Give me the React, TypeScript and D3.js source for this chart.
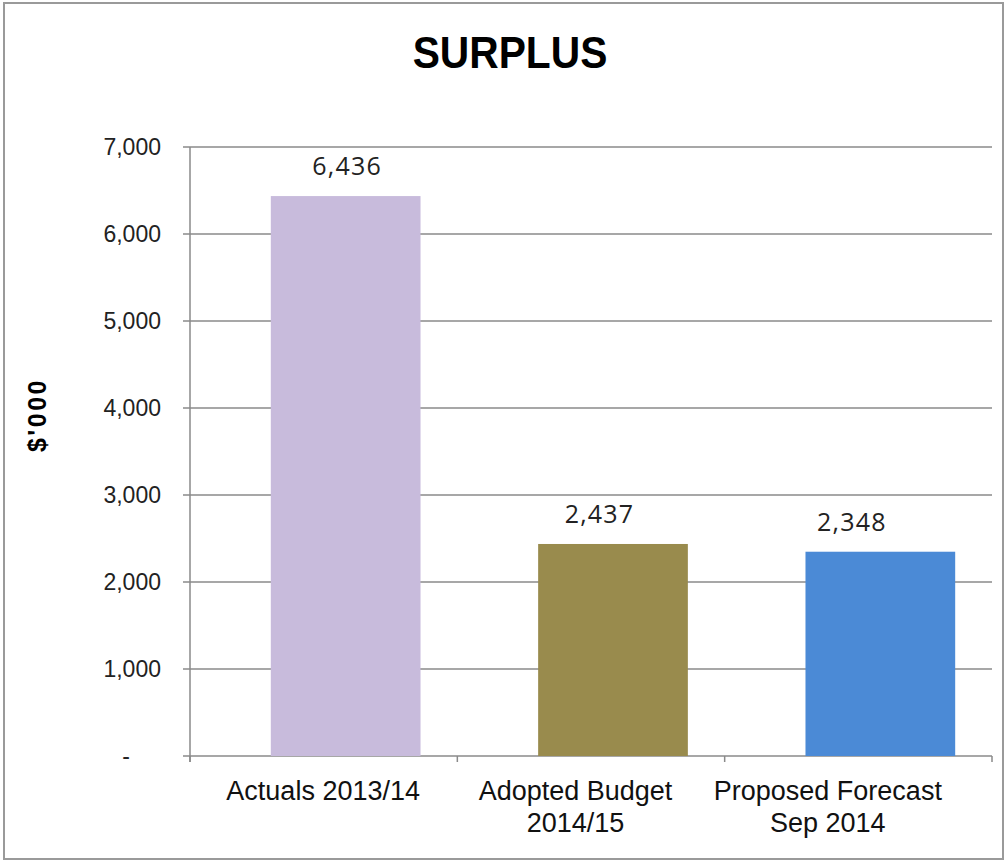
import React from "react";
import * as d3 from "d3";

const categories: string[][] = [
  ["Actuals 2013/14"],
  ["Adopted Budget", "2014/15"],
  ["Proposed Forecast", "Sep 2014"],
];
const values: number[] = [6436, 2437, 2348];
const barColors: string[] = ["#c8bbdc", "#998b4d", "#4b8ad6"];
const yTicks: number[] = [0, 1000, 2000, 3000, 4000, 5000, 6000, 7000];
const title = "SURPLUS";
const yTitle = "$'000";

const W = 1007;
const H = 864;

export default function App() {
  const keys = categories.map((_, i) => String(i));
  const y = d3.scaleLinear().domain([0, 7000]).range([756, 147]);
  const xAxis = d3.scaleBand().domain(keys).range([190, 992]);
  const xBar = d3
    .scaleBand()
    .domain(keys)
    .range([212, 1014])
    .paddingInner(0.44)
    .paddingOuter(0.22);
  const xValue = d3.scaleBand().domain(keys).range([221, 978]);
  const xCat = d3.scaleBand().domain(keys).range([197, 954]);
  const fmt = d3.format(",");
  const tickFmt = (v: number) => (v === 0 ? "-" : fmt(v));
  const axisTicks = [...keys.map((k) => xAxis(k)!), xAxis.range()[1]];

  return (
    <svg
      width={W}
      height={H}
      style={{ position: "absolute", left: 0, top: 0, background: "#fff" }}
    >
      <rect x={0} y={0} width={W} height={H} fill="#fff" />
      <rect
        x={4}
        y={3}
        width={999}
        height={856}
        fill="none"
        stroke="#9a9a9a"
        strokeWidth={2}
      />
      <text
        x={510}
        y={68}
        textAnchor="middle"
        fontFamily="Liberation Sans, Arial, sans-serif"
        fontWeight="bold"
        fontSize={42}
        fill="#000"
        transform="translate(510,68) scale(0.97,1.05) translate(-510,-68)"
      >
        {title}
      </text>
      {/* gridlines */}
      {yTicks.map((t) => (
        <g key={t}>
          <line
            x1={183}
            x2={992}
            y1={y(t)}
            y2={y(t)}
            stroke="#8a8a8a"
            strokeWidth={1.5}
          />
          <text
            x={t === 0 ? 130 : 161}
            y={y(t)}
            dy="0.36em"
            textAnchor="end"
            fontFamily="Liberation Sans, Arial, sans-serif"
            fontSize={23}
            fill="#222"
          >
            {tickFmt(t)}
          </text>
        </g>
      ))}
      {/* y axis */}
      <line x1={190} x2={190} y1={y(7000)} y2={y(0) + 6} stroke="#8a8a8a" strokeWidth={1.5} />
      {axisTicks.map((xv, i) => (
        <line key={i} x1={xv} x2={xv} y1={y(0)} y2={y(0) + 6} stroke="#8a8a8a" strokeWidth={1.5} />
      ))}
      {/* bars */}
      {values.map((v, i) => (
        <rect
          key={i}
          x={xBar(keys[i])!}
          y={y(v)}
          width={xBar.bandwidth()}
          height={y(0) - y(v)}
          fill={barColors[i]}
        />
      ))}
      {/* value labels */}
      {values.map((v, i) => (
        <text
          key={i}
          x={xValue(keys[i])! + xValue.bandwidth() / 2}
          y={y(v) - 21}
          textAnchor="middle"
          fontFamily="Open Sans, sans-serif"
          fontSize={25}
          letterSpacing={1.2}
          fill="#222"
        >
          {fmt(v)}
        </text>
      ))}
      {/* category labels */}
      {categories.map((lines, i) => (
        <text
          key={i}
          x={xCat(keys[i])! + xCat.bandwidth() / 2}
          y={800}
          textAnchor="middle"
          fontFamily="Liberation Sans, Arial, sans-serif"
          fontSize={27}
          fill="#111"
        >
          {lines.map((l, j) => (
            <tspan key={j} x={xCat(keys[i])! + xCat.bandwidth() / 2} dy={j === 0 ? 0 : 32}>
              {l}
            </tspan>
          ))}
        </text>
      ))}
      <text
        transform={`translate(46,415) rotate(-90)`}
        textAnchor="middle"
        fontFamily="Liberation Sans, Arial, sans-serif"
        fontWeight="bold"
        fontSize={25}
        letterSpacing={2.5}
        fill="#000"
      >
        {yTitle}
      </text>
    </svg>
  );
}
